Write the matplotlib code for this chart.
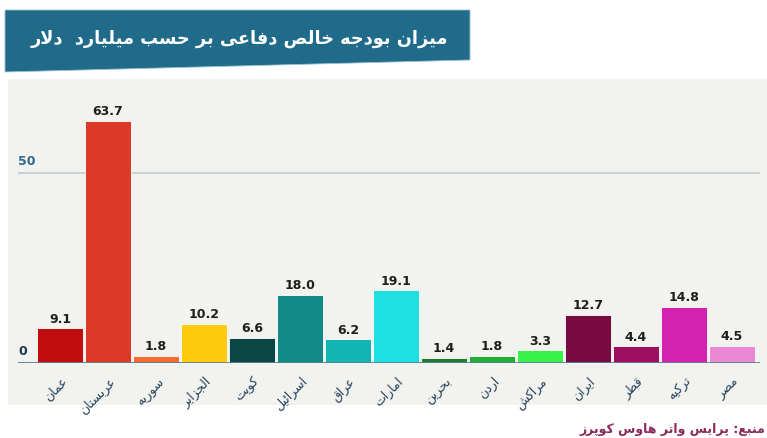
import unicodedata
import matplotlib
matplotlib.use('Agg')
import matplotlib.pyplot as plt
from matplotlib.patches import Polygon, Rectangle

# data
countries = ['عمان', 'عربستان', 'سوریه', 'الجزایر', 'کویت', 'اسرائیل', 'عراق', 'امارات',
             'بحرین', 'اردن', 'مراکش', 'ایران', 'قطر', 'ترکیه', 'مصر']
budget = [9.1, 63.7, 1.8, 10.2, 6.6, 18.0, 6.2, 19.1, 1.4, 1.8, 3.3, 12.7, 4.4, 14.8, 4.5]
bar_colors = ['#c10d0e', '#da3a27', '#f46c30', '#ffcb0c', '#0a4645', '#128b88', '#12b5b3', '#1ee0e0',
              '#1f7d2c', '#22ad36', '#38f24a', '#780b42', '#9c1060', '#d123b0', '#ea88d4']
yticks = [0, 50]
title = 'میزان بودجه خالص دفاعی بر حسب میلیارد  دلار'
source = 'منبع: پرایس واتر هاوس کوپرز'

# small arabic/persian shaper (matplotlib has no text shaping)
RIGHT_ONLY = set('اآأإدذرزژوؤة')


def is_ar(c):
    return '\u0600' <= c <= '\u06ff'


def get_form(c, f):
    try:
        return unicodedata.lookup(unicodedata.name(c) + ' ' + f + ' FORM')
    except KeyError:
        return c


def fa(text):
    out = []
    n = len(text)
    i = 0
    while i < n:
        c = text[i]
        if not is_ar(c):
            out.append(c)
            i += 1
            continue
        prev = text[i - 1] if i > 0 else ''
        joins_prev = is_ar(prev) and prev not in RIGHT_ONLY
        if c == 'ل' and i + 1 < n and text[i + 1] in 'اآأإ':
            lig = 'ARABIC LIGATURE LAM WITH ALEF ' + ('FINAL' if joins_prev else 'ISOLATED') + ' FORM'
            out.append(unicodedata.lookup(lig))
            i += 2
            continue
        nxt = text[i + 1] if i + 1 < n else ''
        joins_next = c not in RIGHT_ONLY and is_ar(nxt)
        f = {(False, False): 'ISOLATED', (True, False): 'FINAL',
             (False, True): 'INITIAL', (True, True): 'MEDIAL'}[(joins_prev, joins_next)]
        out.append(get_form(c, f))
        i += 1
    return ''.join(out)[::-1]


W, H = 767, 438
fig = plt.figure(figsize=(W / 100, H / 100), dpi=100)
fig.patch.set_facecolor('white')


def px(x, y):
    return x / W, 1 - y / H


# grey panel
fig.patches.append(Rectangle(px(8, 405), (W - 8) / W, (405 - 79) / H,
                             transform=fig.transFigure, facecolor='#f2f2ee',
                             edgecolor='none', zorder=-5))

# title banner
banner = Polygon([px(5, 10), px(470, 10), px(470, 60), px(5, 72)], closed=True,
                 transform=fig.transFigure, facecolor='#206a8a',
                 edgecolor='#9cc3d4', linewidth=0.6, zorder=-4)
fig.patches.append(banner)
fig.text(*px(239, 39), fa(title), color='white', fontsize=12.8, fontweight='bold',
         family='DejaVu Sans', ha='center', va='center')

# source
fig.text(*px(765, 429), fa(source), color='#8c2a5c', fontsize=9, fontweight='bold',
         family='DejaVu Sans', ha='right', va='center')

# chart area
x0, x1 = 18, 760
y_base, y_top = 363, 80
ax = fig.add_axes([x0 / W, 1 - y_base / H, (x1 - x0) / W, (y_base - y_top) / H])
ax.set_facecolor('none')
ax.set_zorder(2)
pitch = 48
ax.set_xlim((x0 - 60) / pitch, (x1 - 60) / pitch)
ax.set_ylim(0, (y_base - y_top) / 3.8)
for s in ax.spines.values():
    s.set_visible(False)
ax.set_xticks([])
ax.set_yticks([])

xs = list(range(len(countries)))
ax.bar(xs, budget, width=46 / pitch, color=bar_colors, edgecolor='white',
       linewidth=0.6, zorder=2)

ax.axhline(50, color='#c3cfd4', linewidth=1.3, zorder=1)
ax.axhline(0, color='#5b7f96', linewidth=2, zorder=3)

for t in yticks:
    ax.text((x0 - 60) / pitch, t + 1.2, str(t), color='#2f6690' if t else '#1f3550',
            fontsize=9, fontweight='bold', family='DejaVu Sans', ha='left', va='bottom')

for x, v in zip(xs, budget):
    ax.annotate(f'{v:.1f}', xy=(x, v), xytext=(0, 2), textcoords='offset points',
                ha='center', va='bottom', fontsize=9, fontweight='bold',
                family='DejaVu Sans', color='#1e1e1e')

for x, name in zip(xs, countries):
    ax.annotate(fa(name), xy=(x, 0), xytext=(4, -12), textcoords='offset points',
                rotation=45, rotation_mode='anchor', ha='right', va='center',
                fontsize=9, family='DejaVu Sans', color='#25435f', annotation_clip=False)

fig.savefig('out.png', dpi=100)
